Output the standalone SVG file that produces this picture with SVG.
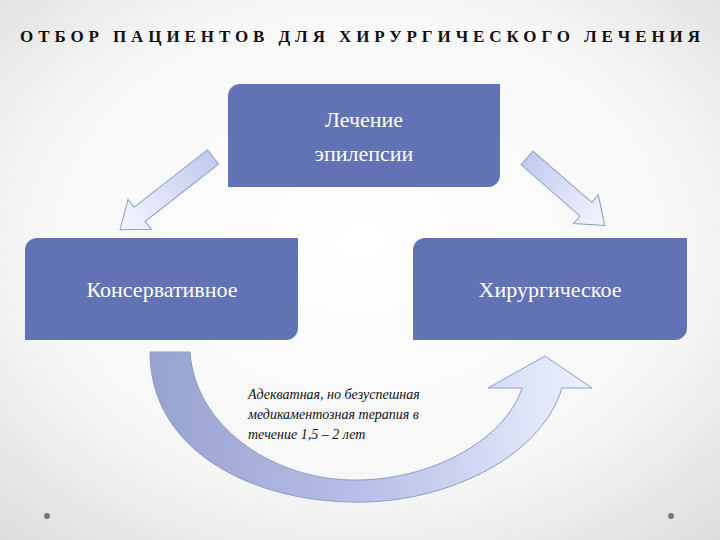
<svg xmlns="http://www.w3.org/2000/svg" width="720" height="540" viewBox="0 0 720 540">
<defs>
<radialGradient id="bg" cx="0.5" cy="0.45" r="0.75"><stop offset="0" stop-color="#ffffff"/><stop offset="0.6" stop-color="#f7f7f7"/><stop offset="1" stop-color="#dcdcdc"/></radialGradient>
<linearGradient id="ag" x1="0" y1="0" x2="1" y2="0"><stop offset="0" stop-color="#c2cbee"/><stop offset="1" stop-color="#f4f6ff"/></linearGradient>
<linearGradient id="cg" x1="0" y1="0" x2="1" y2="0"><stop offset="0" stop-color="#98a2cf"/><stop offset="0.5" stop-color="#b8c1e8"/><stop offset="1" stop-color="#eef2ff"/></linearGradient>
<style>
.box{fill:#6173b4}
.bt{font-family:"Liberation Serif",serif;fill:#fff;text-anchor:middle;font-size:22px}
.ar{stroke:#8f9bc6;stroke-width:1}
</style>
</defs>
<rect width="720" height="540" fill="url(#bg)"/>
<text x="360" y="42" font-family="Liberation Serif,serif" font-weight="bold" font-size="17" text-anchor="middle" textLength="680" fill="#111">ОТБОР ПАЦИЕНТОВ ДЛЯ ХИРУРГИЧЕСКОГО ЛЕЧЕНИЯ</text>
<g id="connectors">
<polygon class="ar" fill="url(#ag)" transform="translate(213,157) rotate(142)" points="0,-9 93,-9 93,-19 118,0 93,19 93,9 0,9"/>
<polygon class="ar" fill="url(#ag)" transform="translate(527,158) rotate(41)" points="0,-9 78,-9 78,-19 103,0 78,19 78,9 0,9"/>
<path class="ar" fill="url(#cg)" d="M150,352 L190,352 C195,425 270,478 350,480 C430,482 505,440 522,388 L488,388 L545,356 L592,388 L562,388 C540,460 440,505 350,502 C250,500 150,450 150,352 Z"/>
</g>
<g id="top"><path class="box" d="M240,84 H500 V175 A12,12 0 0 1 488,187 H228 V96 A12,12 0 0 1 240,84 Z"/>
<text class="bt" x="364" y="127">Лечение</text><text class="bt" x="364" y="161">эпилепсии</text></g>
<g id="left"><path class="box" d="M37,238 H298 V328 A12,12 0 0 1 286,340 H25 V250 A12,12 0 0 1 37,238 Z"/>
<text class="bt" x="162" y="297">Консервативное</text></g>
<g id="right"><path class="box" d="M425,238 H687 V328 A12,12 0 0 1 675,340 H413 V250 A12,12 0 0 1 425,238 Z"/>
<text class="bt" x="550" y="297">Хирургическое</text></g>
<g id="note" font-family="Liberation Serif,serif" font-style="italic" font-size="14" fill="#111">
<text x="248" y="399">Адекватная, но безуспешная</text>
<text x="248" y="419">медикаментозная терапия в</text>
<text x="248" y="439">течение 1,5 – 2 лет</text></g>
<circle cx="47" cy="516" r="3" fill="#777"/><circle cx="671" cy="516" r="3" fill="#777"/>
</svg>
